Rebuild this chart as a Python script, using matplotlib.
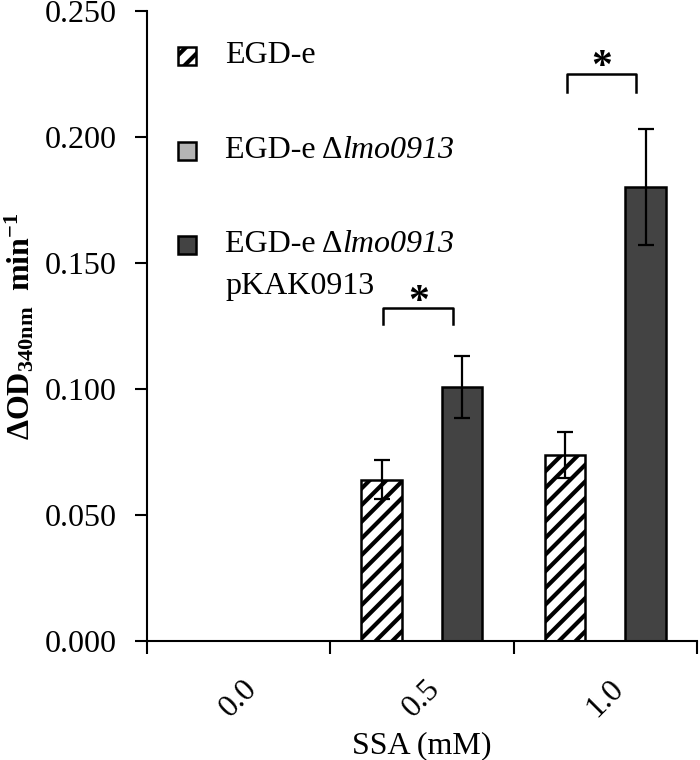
import numpy as np
import matplotlib
matplotlib.use("Agg")
import matplotlib.pyplot as plt
from matplotlib.patches import Rectangle

plt.rcParams['font.family'] = ['Liberation Serif', 'DejaVu Serif']
plt.rcParams['mathtext.fontset'] = 'custom'
plt.rcParams['mathtext.rm'] = 'Liberation Serif'
plt.rcParams['mathtext.it'] = 'Liberation Serif:italic'
plt.rcParams['mathtext.bf'] = 'Liberation Serif:bold'
plt.rcParams['hatch.linewidth'] = 3.0

# data
conc = ['0.0', '0.5', '1.0']
egd = [0.0, 0.0640, 0.0737]
egd_err = [0.0, 0.0077, 0.0092]
mut = [0.0, 0.0, 0.0]
mut_err = [0.0, 0.0, 0.0]
comp = [0.0, 0.1007, 0.1800]
comp_err = [0.0, 0.0123, 0.0230]
labels = ['EGD-e', 'EGD-e \u0394', 'EGD-e \u0394']
labels_it = ['', 'lmo0913', 'lmo0913']
# significance brackets: (category index, bracket bottom, bracket top)
sig = [(1, 0.1257, 0.1321), (2, 0.2180, 0.2250)]

fs = 23
fig = plt.figure(figsize=(7, 7.6), dpi=100)
ax = fig.add_axes([0.21, 0.1566, 0.7857, 0.829])

x = np.arange(len(conc))
w = 0.22
off = 0.22
dark = '#434343'
grey = '#b4b4b4'

ax.bar(x - off, egd, w, color='white', edgecolor='black', hatch='//', linewidth=1.8, zorder=2)
ax.bar(x, mut, w, color=grey, edgecolor='black', linewidth=1.8, zorder=2)
ax.bar(x + off, comp, w, color=dark, edgecolor='black', linewidth=1.8, zorder=2)

for pos, vals, errs in [(x - off, egd, egd_err), (x, mut, mut_err), (x + off, comp, comp_err)]:
    vals = np.array(vals)
    errs = np.array(errs)
    m = vals > 0
    if m.any():
        ax.errorbar(pos[m], vals[m], yerr=errs[m], fmt='none', ecolor='black',
                    elinewidth=1.6, capsize=6, capthick=1.6, zorder=3)

for i, lo, hi in sig:
    xl = i - 0.21
    xr = i + 0.17
    ax.plot([xl, xl, xr, xr], [lo, hi, hi, lo], color='black', lw=1.8, zorder=3)
    ax.text((xl + xr) / 2, hi - 0.0018, '*', ha='center', va='baseline',
            fontsize=30, fontweight='bold')

ax.set_xlim(-0.5, 2.5)
ax.set_ylim(0, 0.25)
ax.set_yticks(np.arange(0, 0.2501, 0.05))
ax.set_yticklabels(['%.3f' % v for v in np.arange(0, 0.2501, 0.05)], fontsize=fs)
ax.tick_params(axis='y', direction='out', length=9, width=1.5, pad=13)

ax.set_xticks([-0.5, 0.5, 1.5, 2.5])
ax.set_xticklabels([])
ax.tick_params(axis='x', which='major', direction='out', length=9, width=1.5)
ax.set_xticks(x, minor=True)
ax.set_xticklabels(conc, minor=True, rotation=45, fontsize=fs)
ax.tick_params(axis='x', which='minor', length=0, pad=24)

for s in ['top', 'right']:
    ax.spines[s].set_visible(False)
for s in ['left', 'bottom']:
    ax.spines[s].set_linewidth(1.5)

ax.set_xlabel('SSA (mM)', fontsize=fs, labelpad=6)
ax.set_ylabel(r'$\mathbf{\Delta OD_{340nm}\ \ min^{-1}}$', fontsize=fs, labelpad=6)

# legend drawn by hand
leg_y = [0.9286, 0.7778, 0.6286]
leg_style = [dict(facecolor='white', hatch='//'), dict(facecolor=grey), dict(facecolor=dark)]
for yy, lab, lab_it, st in zip(leg_y, labels, labels_it, leg_style):
    ax.add_patch(Rectangle((0.0564, yy - 0.0143), 0.0327, 0.0286, transform=ax.transAxes,
                           edgecolor='black', linewidth=1.8, clip_on=False, **st))
    t = ax.text(0.1418, yy, lab, transform=ax.transAxes, va='center', ha='left', fontsize=fs)
    if lab_it:
        ax.annotate(lab_it, xy=(1, 0), xycoords=t, va='bottom', ha='left',
                    fontsize=fs, style='italic')
ax.text(0.1418, 0.5619, 'pKAK0913', transform=ax.transAxes, va='center', ha='left', fontsize=fs)

fig.savefig('out.png', dpi=100)
